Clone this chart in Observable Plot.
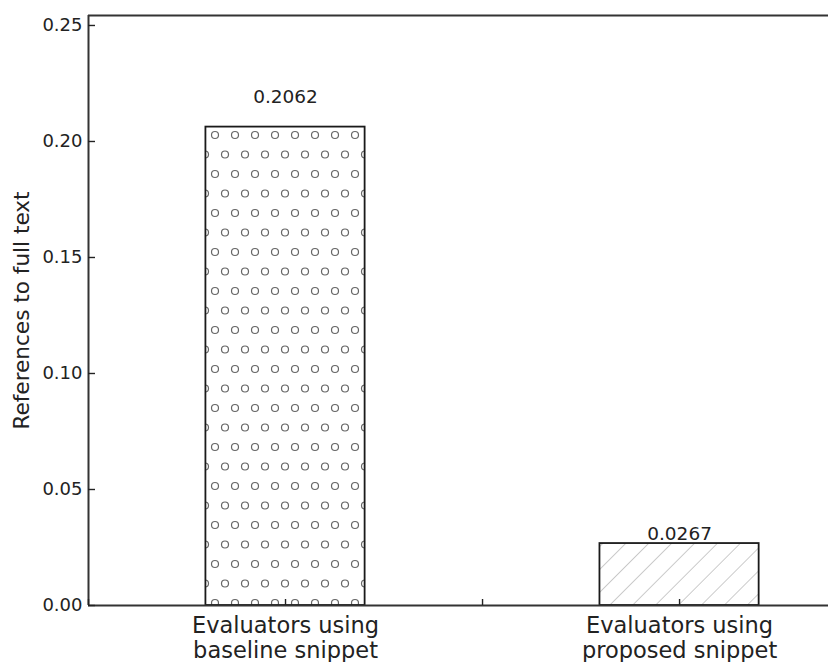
<!DOCTYPE html>
<html><head><meta charset="utf-8">
<script src="https://cdn.jsdelivr.net/npm/d3@7"></script>
<script src="https://cdn.jsdelivr.net/npm/@observablehq/plot@0.6"></script>
<style>body{margin:0;background:#fff} svg{display:block}</style>
</head><body><div id="chart"></div>
<script>
// ---- data ----
const categories = ["Evaluators using\nbaseline snippet", "Evaluators using\nproposed snippet"];
const positions = [0, 1];
const values = [0.2062, 0.0267];
const valueLabels = ["0.2062", "0.0267"];
const patterns = ["url(#dots)", "url(#hatch)"];
const yTicks = [0, 0.05, 0.10, 0.15, 0.20, 0.25];
const xTicks = [-0.5, 0, 0.5, 1];
const yLabel = "References to full text";
const xDomain = [-0.5, 1.378];
const yDomain = [0, 0.2543];
const barHalfWidth = 0.202;
const labelLift = 1.05;

const data = categories.map((c, i) => ({category: c, pos: positions[i], value: values[i], label: valueLabels[i], fill: patterns[i]}));

const font = "DejaVu Sans";
const plot = Plot.plot({
  width: 828, height: 662,
  marginLeft: 88, marginRight: 0, marginTop: 15, marginBottom: 57,
  style: {fontFamily: font, color: "#222", background: "#fff", overflow: "visible"},
  x: {type: "linear", domain: xDomain},
  y: {domain: yDomain},
  color: {type: "identity"},
  marks: [
    Plot.rect(data, {x1: d => d.pos - barHalfWidth, x2: d => d.pos + barHalfWidth, y1: 0, y2: "value", fill: "fill", stroke: "#1a1a1a", strokeWidth: 1.8}),
    Plot.text(data, {x: "pos", y: d => d.value * labelLift, text: "label", lineAnchor: "bottom", fontSize: 18.5, fill: "#222"}),
    Plot.ruleY([yDomain[0]], {stroke: "#333", strokeWidth: 2}),
    Plot.ruleY([yDomain[1]], {stroke: "#333", strokeWidth: 2}),
    Plot.ruleX([xDomain[0]], {stroke: "#333", strokeWidth: 2}),
    Plot.axisY(yTicks, {tickSize: -7, tickPadding: 13, strokeWidth: 1.4, tickFormat: d3.format(".2f"), fontSize: 18, label: null}),
    Plot.axisX(xTicks, {tickSize: -6, tickPadding: 16, strokeWidth: 1.4, tickFormat: d => d === positions[0] ? categories[0] : d === positions[1] ? categories[1] : "", fontSize: 22.5, lineHeight: 1.1, label: null}),
    Plot.text([yLabel], {text: d => d, frameAnchor: "left", textAnchor: "middle", rotate: -90, dx: -66, fontSize: 21.6, fill: "#222"})
  ]
});

const defs = `<defs>
  <pattern id="dots" patternUnits="userSpaceOnUse" x="210" y="130" width="20" height="39">
    <rect width="20" height="39" fill="#fff"/>
    <circle cx="5" cy="5" r="3.5" fill="none" stroke="#666" stroke-width="1.2"/>
    <circle cx="15" cy="24.5" r="3.5" fill="none" stroke="#666" stroke-width="1.2"/>
  </pattern>
  <pattern id="hatch" patternUnits="userSpaceOnUse" width="16.2" height="16.2" patternTransform="rotate(45)">
    <rect width="16.2" height="16.2" fill="#fff"/>
    <line x1="0" y1="0" x2="0" y2="16.2" stroke="#aaa" stroke-width="1.2"/>
  </pattern>
</defs>`;
plot.insertAdjacentHTML("afterbegin", defs);
document.getElementById("chart").append(plot);
</script>
</body></html>
